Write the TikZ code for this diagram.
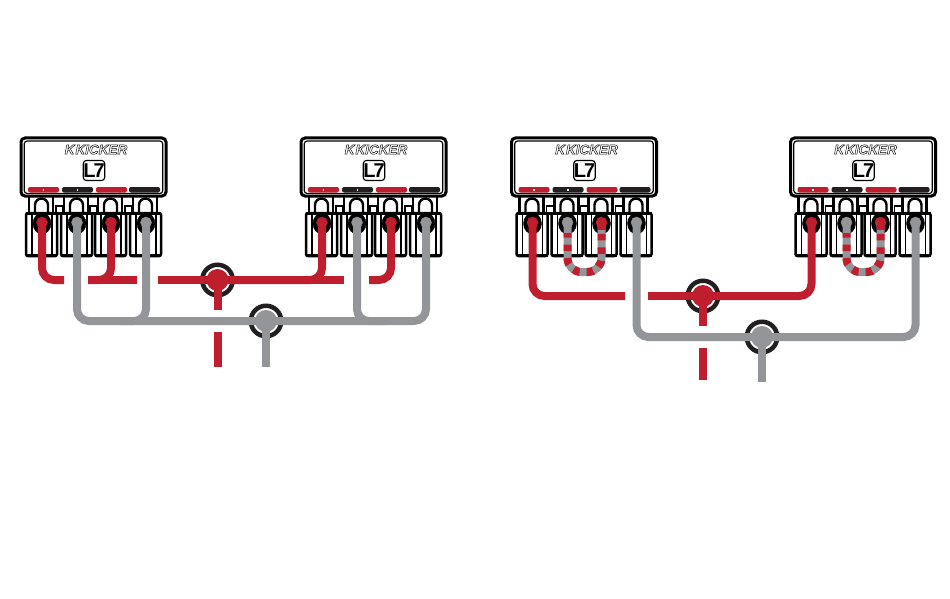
\documentclass[tikz,border=0pt]{standalone}
\usepackage{fontspec}
\setmainfont{Liberation Sans}
\definecolor{wirered}{HTML}{BE1E2D}
\definecolor{wiregray}{HTML}{939598}
\definecolor{ampblack}{HTML}{231F20}
\newcommand{\outlinetext}[1]{\special{pdf:code 1 Tr 0.45 w}#1\special{pdf:code 0 Tr}}
\newcommand{\bridgepath}[2]{(#1) -- ++(0,37) arc (180:90:14) -- ++(6,0) arc (90:0:14) -- (#2)}
\tikzset{
	redwire/.style={draw=wirered, line width=8pt, rounded corners=12pt},
	graywire/.style={draw=wiregray, line width=8pt, rounded corners=12pt},
	stripewire/.style={draw=wirered, line width=8pt, dash pattern=on 6.5pt off 7pt, dash phase=2pt, shorten <=12pt},
	ring/.style={circle, draw=ampblack, line width=4.5pt, fill=white, minimum size=30.5pt, inner sep=0pt},
	reddot/.style={circle, fill=wirered, minimum size=22pt, inner sep=0pt},
	graydot/.style={circle, fill=wiregray, minimum size=22pt, inner sep=0pt},
	ampbar/.style={rounded corners=2pt, fill=#1},
	terminal/.pic={
		\draw[black, line width=2.5pt, fill=white, rounded corners=2pt] (-16,-11) rectangle (15,32);
		\draw[black, line width=1.6pt] (-10,-11)--(-10,31);
		\draw[black, line width=1.6pt] (10,-11)--(10,31);
		\draw[black, line width=3pt] (-16,31)--(15,31);
		\draw[black, line width=2.5pt] (-13,-11)--(-13,-27);
		\draw[black, line width=2.5pt] (11,-11)--(11,-27);
		\draw[black, line width=2.4pt] (-7,-11)--(-7,-19) arc (180:360:6.5) --(6,-11);
		\filldraw[black] (0,-0.5) ellipse [x radius=9, y radius=10.5];
		\filldraw[#1] (0,-1.5) circle (5.5);
	},
	kickeramp/.pic={
		\draw[black, line width=3pt, fill=white, rounded corners=4pt] (1,1) rectangle (146,59);
		\draw[black, line width=1.2pt, rounded corners=3pt] (4.2,4) rectangle (142.8,56.5);
		\node[font=\bfseries\itshape\fontsize{13.5}{13.5}\selectfont, inner sep=0pt] (-brand) at (76,12.5) {\outlinetext{K\kern1pt KICKER}};
		\node[draw=black, line width=1.2pt, rounded corners=3pt, minimum width=20pt, minimum height=20pt, inner sep=0pt, font=\bfseries\fontsize{20}{20}\selectfont] (-logo) at (74,33.5) {L\kern-2pt 7};
		\fill[ampbar=wirered] (8,50) rectangle (39,55.5);
		\fill[ampbar=ampblack] (42,50) rectangle (73,55.5);
		\fill[ampbar=wirered] (76,50) rectangle (107,55.5);
		\fill[ampbar=ampblack] (109,50) rectangle (140,55.5);
		\fill[white] (22.5,52) rectangle (24,53.5);
		\fill[white] (56.5,52) rectangle (58,53.5);
		\pic at (22,87) {terminal=wirered};
		\pic at (57,87) {terminal=wiregray};
		\pic at (91,87) {terminal=wirered};
		\pic at (126,87) {terminal=wiregray};
		% links between the terminals
		\draw[black, line width=3pt] (6,76)--(141,76);
		\draw[black, line width=1.5pt, fill=white] (36,69) rectangle (43,76);
		\draw[black, line width=1.5pt, fill=white] (70,69) rectangle (77,76);
		\draw[black, line width=1.5pt, fill=white] (105,69) rectangle (112,76);
		\coordinate (-t1) at (22,84);
		\coordinate (-t2) at (57,84);
		\coordinate (-t3) at (91,84);
		\coordinate (-t4) at (126,84);
	}
}
\begin{document}
\begin{tikzpicture}[x=1pt, y=-1pt]
	\useasboundingbox (0,0) rectangle (950,599);
	% amplifiers
	\pic (ampA) at (20,137) {kickeramp};
	\pic (ampB) at (300,137) {kickeramp};
	\pic (ampC) at (510.5,137) {kickeramp};
	\pic (ampD) at (789.5,137) {kickeramp};
	% junctions
	\node[ring] (posA) at (217.5,280) {};
	\node[ring] (negA) at (266,321) {};
	\node[ring] (posB) at (703,296) {};
	\node[ring] (negB) at (762,337) {};
	\node[reddot] (posAdot) at (posA) {};
	\node[graydot] (negAdot) at (negA) {};
	\node[reddot] (posBdot) at (posB) {};
	\node[graydot] (negBdot) at (negB) {};
	% free ends of the wires
	\coordinate (a1) at (64,280);
	\coordinate (a2) at (88,280);
	\coordinate (a3) at (137,280);
	\coordinate (a4) at (158,280);
	\coordinate (a5) at (344,280);
	\coordinate (a6) at (369,280);
	\coordinate (a7) at (217.5,310);
	\coordinate (a8) at (217.5,332);
	\coordinate (a9) at (217.5,366.5);
	\coordinate (a10) at (266,366.5);
	\coordinate (a11) at (120,321);
	\coordinate (a12) at (385,321);
	\coordinate (b1) at (625,296);
	\coordinate (b2) at (648,296);
	\coordinate (b3) at (703,326);
	\coordinate (b4) at (703,348);
	\coordinate (b5) at (703,380);
	\coordinate (b6) at (762,382);
	% left pair
	\draw[graywire] (ampA-t2) |- (negA.center);
	\draw[graywire] (ampA-t4) |- (a11);
	\draw[graywire] (ampB-t2) |- (a12);
	\draw[graywire] (ampB-t4) |- (negA.center);
	\draw[graywire] (negA.center) -- (a10);
	\draw[redwire] (ampA-t1) |- (a1);
	\draw[redwire] (ampA-t3) |- (a2);
	\draw[redwire] (a2) -- (a3);
	\draw[redwire] (a4) -- (posA.center) -- (a5);
	\draw[redwire] (ampB-t1) |- (posA.center);
	\draw[redwire] (ampB-t3) |- (a6);
	\draw[redwire] (posA.center) -- (a7);
	\draw[redwire] (a8) -- (a9);
	% right pair
	\draw[graywire] (ampC-t4) |- (negB.center);
	\draw[graywire] (ampD-t4) |- (negB.center);
	\draw[graywire] (negB.center) -- (b6);
	\draw[redwire] (ampC-t1) |- (b1);
	\draw[redwire] (b2) -- (posB.center);
	\draw[redwire] (ampD-t1) |- (posB.center);
	\draw[redwire] (posB.center) -- (b3);
	\draw[redwire] (b4) -- (b5);
	% bridges
	\draw[graywire, sharp corners] \bridgepath{ampC-t2}{ampC-t3};
	\draw[stripewire] \bridgepath{ampC-t2}{ampC-t3};
	\draw[redwire] (ampC-t3) -- ++(0,9);
	\draw[graywire, sharp corners] \bridgepath{ampD-t2}{ampD-t3};
	\draw[stripewire] \bridgepath{ampD-t2}{ampD-t3};
	\draw[redwire] (ampD-t3) -- ++(0,9);
\end{tikzpicture}
\end{document}
